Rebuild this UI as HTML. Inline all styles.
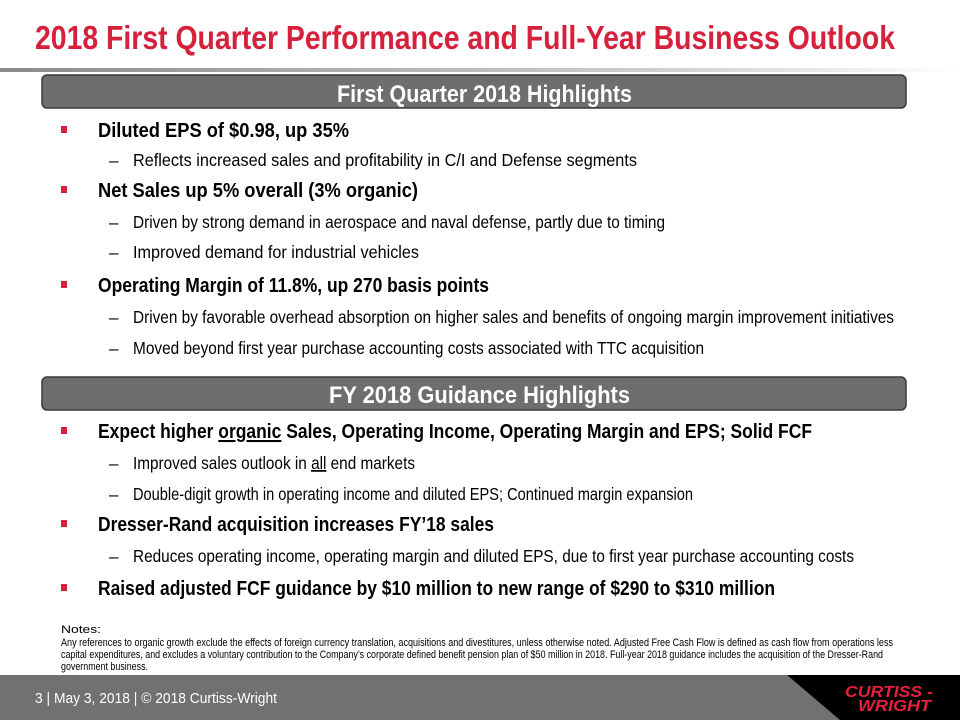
<!DOCTYPE html>
<html><head><meta charset="utf-8"><style>
html,body{margin:0;padding:0;background:#fff;width:960px;height:720px;overflow:hidden}
svg{display:block;font-family:"Liberation Sans",Arial,sans-serif}
.b{font-weight:bold;fill:#000;font-size:20.5px}
.s{fill:#000;font-size:17.5px}
.bn{fill:#fff;font-weight:bold;font-size:24px}
.nt{fill:#000;font-size:11px}
</style></head><body>
<svg width="960" height="720" viewBox="0 0 960 720">
<defs>
<linearGradient id="rule" x1="0" x2="1" y1="0" y2="0"><stop offset="0" stop-color="#8a8a8a"/><stop offset="0.7" stop-color="#d0d0d0"/><stop offset="1" stop-color="#fff"/></linearGradient>
</defs>
<text x="35" y="49" textLength="860" lengthAdjust="spacingAndGlyphs" font-size="33" font-weight="bold" fill="#d5213c">2018 First Quarter Performance and Full-Year Business Outlook</text>
<rect x="0" y="68" width="960" height="4" fill="url(#rule)"/>

<g>
<rect x="42" y="75" width="864" height="33" rx="5" fill="#6d6e70" stroke="#3a3a3a" stroke-width="1.5"/>
<text class="bn" x="337" y="102" textLength="295" lengthAdjust="spacingAndGlyphs">First Quarter 2018 Highlights</text>
</g>

<g fill="#d5213c">
<rect x="61" y="126" width="6" height="7"/><rect x="61" y="186" width="6" height="7"/><rect x="61" y="281" width="6" height="7"/>
<rect x="61" y="427" width="6" height="7"/><rect x="61" y="520" width="6" height="7"/><rect x="61" y="584" width="6" height="7"/>
</g>
<g font-size="17" fill="#000">
<text x="109" y="166">–</text><text x="109" y="228">–</text><text x="109" y="258">–</text><text x="109" y="323">–</text><text x="109" y="354">–</text>
<text x="109" y="469">–</text><text x="109" y="500">–</text><text x="109" y="562">–</text>
</g>

<text class="b" x="98" y="137" textLength="251" lengthAdjust="spacingAndGlyphs">Diluted EPS of $0.98, up 35%</text>
<text class="s" x="133" y="166" textLength="504" lengthAdjust="spacingAndGlyphs">Reflects increased sales and profitability in C/I and Defense segments</text>
<text class="b" x="98" y="197" textLength="320" lengthAdjust="spacingAndGlyphs">Net Sales up 5% overall (3% organic)</text>
<text class="s" x="133" y="228" textLength="532" lengthAdjust="spacingAndGlyphs">Driven by strong demand in aerospace and naval defense, partly due to timing</text>
<text class="s" x="133" y="258" textLength="286" lengthAdjust="spacingAndGlyphs">Improved demand for industrial vehicles</text>
<text class="b" x="98" y="292" textLength="391" lengthAdjust="spacingAndGlyphs">Operating Margin of 11.8%, up 270 basis points</text>
<text class="s" x="133" y="323" textLength="761" lengthAdjust="spacingAndGlyphs">Driven by favorable overhead absorption on higher sales and benefits of ongoing margin improvement initiatives</text>
<text class="s" x="133" y="354" textLength="571" lengthAdjust="spacingAndGlyphs">Moved beyond first year purchase accounting costs associated with TTC acquisition</text>

<g>
<rect x="42" y="377" width="864" height="33" rx="5" fill="#6d6e70" stroke="#3a3a3a" stroke-width="1.5"/>
<text class="bn" x="329" y="403" textLength="301" lengthAdjust="spacingAndGlyphs">FY 2018 Guidance Highlights</text>
</g>

<text class="b" x="98" y="438" textLength="714" lengthAdjust="spacingAndGlyphs">Expect higher <tspan text-decoration="underline">organic</tspan> Sales, Operating Income, Operating Margin and EPS; Solid FCF</text>
<text class="s" x="133" y="469" textLength="282" lengthAdjust="spacingAndGlyphs">Improved sales outlook in <tspan text-decoration="underline">all</tspan> end markets</text>
<text class="s" x="133" y="500" textLength="560" lengthAdjust="spacingAndGlyphs">Double-digit growth in operating income and diluted EPS; Continued margin expansion</text>
<text class="b" x="98" y="531" textLength="396" lengthAdjust="spacingAndGlyphs">Dresser-Rand acquisition increases FY’18 sales</text>
<text class="s" x="133" y="562" textLength="721" lengthAdjust="spacingAndGlyphs">Reduces operating income, operating margin and diluted EPS, due to first year purchase accounting costs</text>
<text class="b" x="98" y="595" textLength="677" lengthAdjust="spacingAndGlyphs">Raised adjusted FCF guidance by $10 million to new range of $290 to $310 million</text>

<g>
<text class="nt" x="61" y="633" textLength="40" lengthAdjust="spacingAndGlyphs">Notes:</text>
<text class="nt" x="61" y="646" textLength="832" lengthAdjust="spacingAndGlyphs">Any references to organic growth exclude the effects of foreign currency translation, acquisitions and divestitures, unless otherwise noted. Adjusted Free Cash Flow is defined as cash flow from operations less</text>
<text class="nt" x="61" y="658" textLength="822" lengthAdjust="spacingAndGlyphs">capital expenditures, and excludes a voluntary contribution to the Company’s corporate defined benefit pension plan of $50 million in 2018. Full-year 2018 guidance includes the acquisition of the Dresser-Rand</text>
<text class="nt" x="61" y="670" textLength="87" lengthAdjust="spacingAndGlyphs">government business.</text>
</g>

<g>
<rect x="0" y="675" width="960" height="45" fill="#707173"/>
<polygon points="787,675 960,675 960,720 840,720" fill="#000"/>
<text x="35" y="703" font-size="15" fill="#fff" textLength="242" lengthAdjust="spacingAndGlyphs">3  | May 3, 2018  |  © 2018 Curtiss-Wright</text>
<g fill="#e4203d" font-weight="bold" font-style="italic" font-size="16">
<text x="845" y="697" textLength="88" lengthAdjust="spacingAndGlyphs">CURTISS -</text>
<text x="858" y="711" textLength="73" lengthAdjust="spacingAndGlyphs">WRIGHT</text>
</g>
</g>
</svg>
</body></html>
